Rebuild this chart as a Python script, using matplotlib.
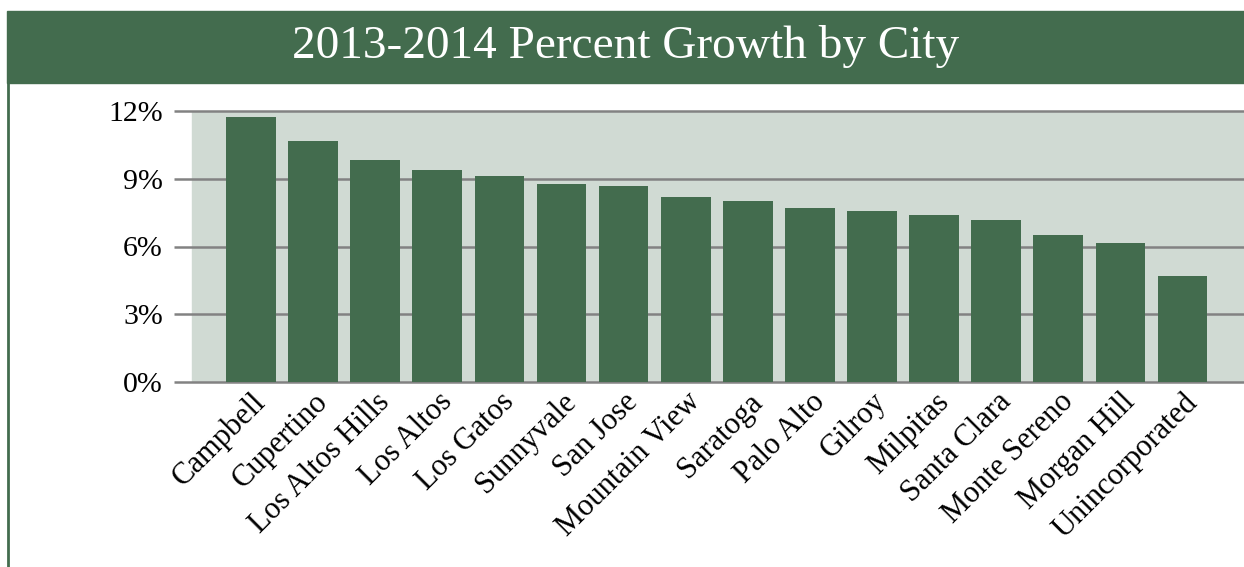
import matplotlib.pyplot as plt
from matplotlib.patches import Rectangle

cities = ['Campbell', 'Cupertino', 'Los Altos Hills', 'Los Altos', 'Los Gatos',
          'Sunnyvale', 'San Jose', 'Mountain View', 'Saratoga', 'Palo Alto',
          'Gilroy', 'Milpitas', 'Santa Clara', 'Monte Sereno', 'Morgan Hill',
          'Unincorporated']
growth = [11.74, 10.67, 9.83, 9.39, 9.14, 8.77, 8.68, 8.21, 8.02, 7.71,
          7.57, 7.40, 7.17, 6.51, 6.16, 4.69]
y_ticks = [0, 3, 6, 9, 12]
y_labels = ['0%', '3%', '6%', '9%', '12%']

green = '#436c4e'
panel = '#d0dad3'
grid = '#828282'

plt.rcParams['font.family'] = ['Liberation Serif', 'DejaVu Serif']

fig = plt.figure(figsize=(12.44, 5.67), dpi=100)

# title banner and left rule
fig.patches.append(Rectangle((7 / 1244, 1 - 83 / 567), 1 - 7 / 1244, 72 / 567,
                             transform=fig.transFigure, color=green, zorder=0))
fig.lines.append(plt.Line2D([8 / 1244, 8 / 1244], [0, 1 - 83 / 567],
                            transform=fig.transFigure, color=green, lw=2))
fig.text(0.503, 1 - 46 / 567, '2013-2014 Percent Growth by City',
         color='white', fontsize=34, ha='center', va='center')

ax = fig.add_axes([174 / 1244, 1 - 382 / 567, 1 - 174 / 1244, 271 / 567])
x = list(range(len(cities)))
x_left, x_right = -1.24, 15.99
ax.set_xlim(x_left, x_right)
ax.set_ylim(0, 12)
ax.set_facecolor('none')
for s in ax.spines.values():
    s.set_visible(False)

ax.add_patch(Rectangle((-0.95, 0), x_right + 0.95, 12, color=panel, zorder=0))
ax.hlines(y_ticks, x_left, x_right, colors=grid, lw=1.8, zorder=1, clip_on=False)
ax.bar(x, growth, width=0.8, color=green, zorder=2)

ax.set_yticks(y_ticks)
ax.set_yticklabels(y_labels, fontsize=21.5)
ax.tick_params(axis='y', length=0, pad=8)
ax.set_xticks(x)
ax.set_xticklabels(cities, rotation=45, ha='right', va='top',
                   rotation_mode='anchor', fontsize=22)
ax.tick_params(axis='x', length=0, pad=4)

fig.savefig('out.png', dpi=100)
